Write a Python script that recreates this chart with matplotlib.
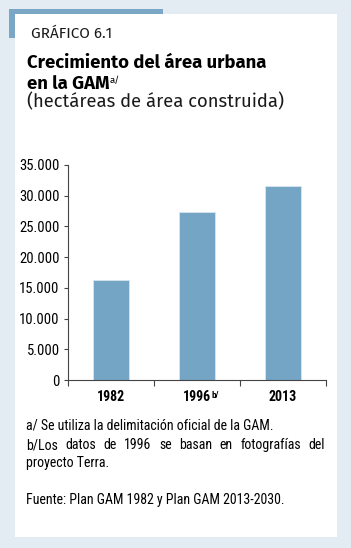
import matplotlib
matplotlib.use("Agg")
import matplotlib.pyplot as plt
from matplotlib.patches import Rectangle

categories = ["1982", "1996", "2013"]
cat_sups = ["", "b/", ""]
values = [16200, 27300, 31500]
yticks = [0, 5000, 10000, 15000, 20000, 25000, 30000, 35000]
ytick_labels = ["0", "5.000", "10.000", "15.000", "20.000", "25.000", "30.000", "35.000"]

narrow = "Roboto Condensed"
head = "Fira Sans"

W, H = 351, 548
fig = plt.figure(figsize=(W/100, H/100), dpi=100)
fig.patch.set_facecolor("#e3ebf3")

def px(x, y):
    return x / W, 1 - y / H

fig.patches.append(Rectangle(px(9, 38), 154/W, 29/H, transform=fig.transFigure,
                             facecolor="#7aa7c6", edgecolor="none", zorder=-3))
fig.patches.append(Rectangle(px(15, 537), 322/W, 523/H, transform=fig.transFigure,
                             facecolor="white", edgecolor="none", zorder=-2))

fig.text(*px(31, 38), "GRÁFICO 6.1", fontsize=11, family=head, color="#1a1a1a", va="baseline")
fig.text(*px(27, 68), "Crecimiento del área urbana", fontsize=13.3, family=head,
         fontweight="bold", color="black", va="baseline")
t = fig.text(*px(27, 89), "en la GAM", fontsize=13.3, family=head,
             fontweight="bold", color="black", va="baseline")
fig.canvas.draw()
r = fig.canvas.get_renderer()
bb = t.get_window_extent(r)
fig.text(bb.x1 / W, 1 - 83/H, "a/", fontsize=7, family=head, color="black", va="baseline")
fig.text(*px(27, 107), "(hectáreas de área construida)", fontsize=13.3, family=head,
         color="#1a1a1a", va="baseline")

ax = fig.add_axes([68/W, 1 - 380/H, (326-68)/W, (380-165)/H])
ax.set_facecolor("none")
x = list(range(len(categories)))
ax.bar(x, values, width=0.41, color="#74a5c4", edgecolor="#d8e6ef", linewidth=0.6)
ax.set_xlim(-0.5, 2.5)
ax.set_ylim(0, 35000)
ax.set_yticks(yticks)
ax.set_yticklabels(ytick_labels, fontsize=10.5, family=narrow, color="black")
ax.set_xticks(x)
ax.set_xticklabels([""] * 3)
ax.set_xticks([-0.5, 0.5, 1.5, 2.5], minor=True)
ax.tick_params(axis="x", which="major", length=0)
ax.tick_params(axis="x", which="minor", length=4, width=0.8, direction="out", color="#444")
ax.tick_params(axis="y", length=3, width=0.8, color="#444", pad=3)
for s in ["top", "right"]:
    ax.spines[s].set_visible(False)
for s in ["left", "bottom"]:
    ax.spines[s].set_color("#444")
    ax.spines[s].set_linewidth(0.8)

for xi, cat, sup in zip(x, categories, cat_sups):
    tt = ax.text(xi, -0.045, cat, transform=ax.get_xaxis_transform(), ha="center", va="top",
                 fontsize=10, family=narrow, fontweight="bold")
    if sup:
        fig.canvas.draw()
        b = tt.get_window_extent(fig.canvas.get_renderer())
        fig.text(b.x1 / W, b.y1 / H - 1/H, sup, fontsize=6.5, family=narrow, fontweight="bold", va="top")

fs = 10
fig.text(*px(26, 430), "a/ Se utiliza la delimitación oficial de la GAM.", fontsize=fs, family=narrow, va="baseline")
words = "b/Los datos de 1996 se basan en fotografías del".split()
x0, x1 = 26, 325
fig.canvas.draw()
r = fig.canvas.get_renderer()
ts = [fig.text(0, 0, w, fontsize=fs, family=narrow, va="baseline") for w in words]
widths = [tw.get_window_extent(r).width for tw in ts]
gap = (x1 - x0 - sum(widths)) / (len(words) - 1)
cx = x0
for tw, wd in zip(ts, widths):
    tw.set_position(px(cx, 449))
    cx += wd + gap
fig.text(*px(26, 467), "proyecto Terra.", fontsize=fs, family=narrow, va="baseline")
fig.text(*px(26, 504), "Fuente: Plan GAM 1982 y Plan GAM 2013-2030.", fontsize=fs, family=narrow, va="baseline")

fig.savefig("out.png", dpi=100, facecolor=fig.get_facecolor())
